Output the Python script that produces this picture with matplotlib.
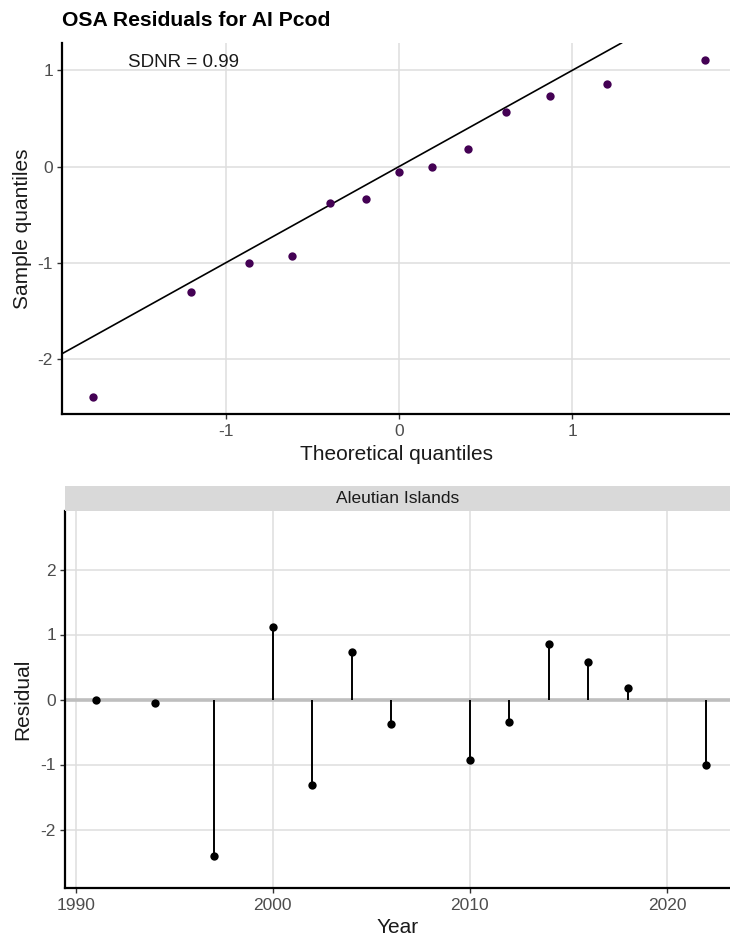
import matplotlib
matplotlib.use("Agg")
import matplotlib.pyplot as plt
from matplotlib.patches import Rectangle

plt.rcParams['font.family'] = ['Liberation Sans', 'DejaVu Sans']
plt.rcParams['axes.unicode_minus'] = False

# Q-Q panel data
theoretical_q = [-1.77, -1.20, -0.87, -0.62, -0.40, -0.19, 0.0, 0.19, 0.40, 0.62, 0.87, 1.20, 1.77]
sample_q = [-2.40, -1.31, -1.00, -0.93, -0.38, -0.34, -0.06, 0.0, 0.18, 0.57, 0.73, 0.86, 1.11]
qq_intercept = 0.0
qq_slope = 1.0
sdnr_label = "SDNR = 0.99"

# Residual time series
years = [1991, 1994, 1997, 2000, 2002, 2004, 2006, 2010, 2012, 2014, 2016, 2018, 2022]
residuals = [0.0, -0.06, -2.40, 1.11, -1.31, 0.73, -0.38, -0.93, -0.34, 0.86, 0.57, 0.18, -1.00]
facet_label = "Aleutian Islands"

W, H = 730, 936
fig = plt.figure(figsize=(7.3, 9.36), dpi=100)

def ax_rect(l, t, r, b):
    return [l / W, 1 - b / H, (r - l) / W, (b - t) / H]

grid_c = '#DEDEDE'
tick_c = '#333333'
label_fs = 12.5
title_fs = 15

def style(ax):
    for s in ['top', 'right']:
        ax.spines[s].set_visible(False)
    for s in ['left', 'bottom']:
        ax.spines[s].set_linewidth(1.6)
        ax.spines[s].set_color('black')
    ax.tick_params(length=3.5, width=1.0, color=tick_c, labelsize=label_fs, labelcolor='#4D4D4D', pad=3)
    ax.tick_params(axis='x', pad=4)
    ax.grid(True, color=grid_c, linewidth=1.1)
    ax.set_axisbelow(True)

# ---- top panel
ax1 = fig.add_axes(ax_rect(62, 43, 730, 414))
style(ax1)
ax1.set_xlim(-1.948, 1.912)
ax1.set_ylim(-2.575, 1.285)
ax1.set_xticks([-1, 0, 1])
ax1.set_yticks([-2, -1, 0, 1])
ax1.axline((0, qq_intercept), slope=qq_slope, color='black', linewidth=1.2, zorder=2)
ax1.scatter(theoretical_q, sample_q, s=36, color='#440154', zorder=3, linewidths=0)
ax1.text(-1.245, 1.08, sdnr_label, ha='center', va='center', fontsize=13.5, color='#1a1a1a')
ax1.set_xlabel('Theoretical quantiles', fontsize=title_fs, labelpad=4, color='#1a1a1a')
ax1.set_ylabel('Sample quantiles', fontsize=title_fs, labelpad=4, color='#1a1a1a')
fig.text(62 / W, 1 - 20 / H, 'OSA Residuals for AI Pcod', fontsize=15.2, fontweight='bold',
         ha='left', va='center')

# ---- bottom panel
ax2 = fig.add_axes(ax_rect(65, 511, 730, 888))
style(ax2)
ax2.set_xlim(1989.45, 2023.2)
ax2.set_ylim(-2.9, 2.9)
ax2.set_xticks([1990, 2000, 2010, 2020])
ax2.set_yticks([-2, -1, 0, 1, 2])
ax2.axhline(0, color='#BEBEBE', linewidth=2.6, zorder=1)
ax2.vlines(years, 0, residuals, color='black', linewidth=1.4, zorder=2)
ax2.scatter(years, residuals, s=36, color='black', zorder=3, linewidths=0)
ax2.set_xlabel('Year', fontsize=title_fs, labelpad=3, color='#1a1a1a')
ax2.set_ylabel('Residual', fontsize=title_fs, labelpad=6, color='#1a1a1a')

# facet strip
strip = fig.add_axes(ax_rect(65, 486, 730, 511))
strip.set_xlim(0, 1); strip.set_ylim(0, 1)
strip.add_patch(Rectangle((0, 0), 1, 1, facecolor='#D9D9D9', edgecolor='none'))
strip.axis('off')
strip.text(0.5, 0.5, facet_label, ha='center', va='center', fontsize=12.5, color='#1a1a1a')

fig.savefig('out.png', dpi=100)
